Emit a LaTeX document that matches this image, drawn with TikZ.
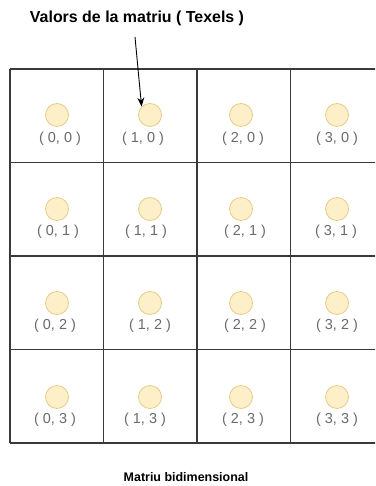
\documentclass[tikz,border=0pt]{standalone}
\usepackage{fontspec}
\setmainfont{Liberation Sans}
\usetikzlibrary{arrows.meta}
\definecolor{gridline}{HTML}{3A3A3A}
\definecolor{dotfill}{HTML}{FDF0C8}
\definecolor{dotline}{HTML}{E2CC88}
\definecolor{labelgray}{HTML}{6A6A6A}
\tikzset{
  cell/.style={minimum width=93.5bp, minimum height=93.5bp, inner sep=0pt, outer sep=0pt, anchor=center},
  gridrule/.style={draw=gridline, line width=1.4pt},
  dot/.style={circle, draw=dotline, fill=dotfill, line width=0.8pt, minimum size=23bp, inner sep=0pt},
  idx/.style={text=labelgray, font=\fontsize{14.5}{17}\selectfont, inner sep=0pt},
  title/.style={font=\bfseries\fontsize{16}{19}\selectfont, inner sep=0pt},
  caption/.style={font=\bfseries\fontsize{12.5}{15}\selectfont, inner sep=0pt},
  pointer/.style={-{Stealth[length=9bp,width=7bp]}, line width=0.9pt, black}
}
\begin{document}
\begin{tikzpicture}[x=1bp, y=-1bp]
\useasboundingbox (0,0) rectangle (375,486);
\clip (0,0) rectangle (375,486);
% grid cells
\foreach \c in {0,1,2,3}{
  \foreach \r in {0,1,2,3}{
    \node[cell] (cell\c\r) at ({56.75+93.5*\c},{115.75+93.5*\r}) {};
  }
}
% grid rules
\foreach \r in {0,1,2,3}{
  \draw[gridrule] (cell0\r.north west) -- (cell3\r.north east);
}
\draw[gridrule] (cell03.south west) -- (cell33.south east);
\foreach \c in {0,1,2,3}{
  \draw[gridrule] (cell\c0.north west) -- (cell\c3.south west);
}
\draw[gridrule] (cell30.north east) -- (cell33.south east);
% dots
\foreach \r/\y in {0/115,1/209,2/303,3/397}{
  \node[dot] (d0\r) at (57,\y) {};
  \node[dot] (d1\r) at (150,\y) {};
  \node[dot] (d2\r) at (241,\y) {};
  \node[dot] (d3\r) at (337,\y) {};
}
% labels
\node[idx] (l00) at (60,139) {( 0, 0 )};
\node[idx] (l10) at (143,139) {( 1, 0 )};
\node[idx] (l20) at (243,139) {( 2, 0 )};
\node[idx] (l30) at (337,139) {( 3, 0 )};
\node[idx] (l01) at (58,232) {( 0, 1 )};
\node[idx] (l11) at (146,232) {( 1, 1 )};
\node[idx] (l21) at (245,232) {( 2, 1 )};
\node[idx] (l31) at (336,232) {( 3, 1 )};
\node[idx] (l02) at (55,326) {( 0, 2 )};
\node[idx] (l12) at (150,326) {( 1, 2 )};
\node[idx] (l22) at (245,326) {( 2, 2 )};
\node[idx] (l32) at (337,326) {( 3, 2 )};
\node[idx] (l03) at (55,420) {( 0, 3 )};
\node[idx] (l13) at (145,420) {( 1, 3 )};
\node[idx] (l23) at (243,420) {( 2, 3 )};
\node[idx] (l33) at (337,420) {( 3, 3 )};
% title and caption
\node[title] (ttl) at (137,18) {Valors de la matriu ( Texels )};
\node[caption] (cap) at (186,477) {Matriu bidimensional};
% pointer
\coordinate (pstart) at (135,37);
\draw[pointer] (pstart) -- (d10.135);
\end{tikzpicture}
\end{document}
